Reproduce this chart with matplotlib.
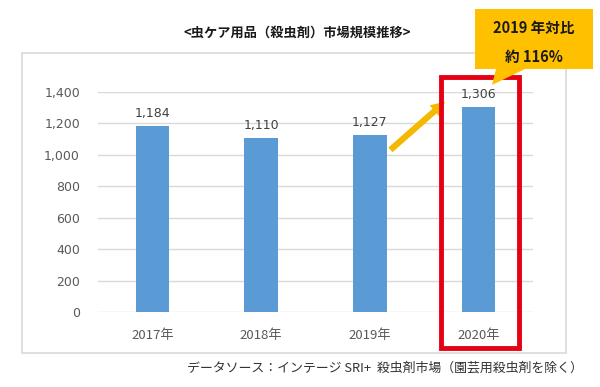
import matplotlib.pyplot as plt
from matplotlib.patches import Rectangle, Polygon

plt.rcParams['font.family'] = ['Noto Sans CJK JP', 'DejaVu Sans']

# ========== data ==========
years = ['2017年', '2018年', '2019年', '2020年']
market = [1184, 1110, 1127, 1306]
yticks = [0, 200, 400, 600, 800, 1000, 1200, 1400]
title = '<虫ケア用品（殺虫剤）市場規模推移>'
callout = ['2019 年対比', '約 116%']
source = 'データソース：インテージ SRI+  殺虫剤市場（園芸用殺虫剤を除く）'

W, H = 600, 387
fig = plt.figure(figsize=(W / 100, H / 100), dpi=100)

def fx(px):
    return px / W

def fy(py):
    return 1 - py / H

# outer light frame
fig.patches.append(Rectangle((fx(22), fy(353)), fx(566 - 22), (353 - 53) / H,
                             transform=fig.transFigure, fill=False,
                             edgecolor='#d9d9d9', linewidth=1.2))

ax = fig.add_axes([fx(98), fy(312), fx(533 - 98), (312 - 92) / H])
x = range(len(years))
ax.bar(x, market, width=0.31, color='#5b9bd5', zorder=2)
for i, v in enumerate(market):
    ax.text(i, v + 35, f'{v:,}', ha='center', va='bottom', fontsize=9,
            color='#404040', family=['DejaVu Sans'])

ax.set_xlim(-0.5, 3.5)
ax.set_ylim(0, 1400)
ax.set_yticks(yticks)
ax.set_yticklabels([f'{t:,}' for t in yticks], family=['DejaVu Sans'])
ax.set_xticks(list(x))
ax.set_xticklabels(years)
ax.tick_params(axis='both', length=0, labelcolor='#595959')
ax.tick_params(axis='y', pad=13, labelsize=9)
ax.tick_params(axis='x', pad=12, labelsize=9.5)
ax.grid(axis='y', color='#d9d9d9', linewidth=1, zorder=0)
for s in ax.spines.values():
    s.set_visible(False)

# arrow from 2019 to 2020
ax.annotate('', xy=(2.71, 1349), xytext=(2.17, 1020),
            arrowprops=dict(arrowstyle='simple,head_width=1.1,head_length=1.0,tail_width=0.45',
                            color='#f5b800', linewidth=0),
            annotation_clip=False)

# red highlight box around 2020
fig.patches.append(Rectangle((fx(441), fy(348)), fx(519 - 441), (348 - 77) / H,
                             transform=fig.transFigure, fill=False,
                             edgecolor='#e50012', linewidth=3.5, zorder=5))

# yellow callout
pts = [(475, 9), (593, 9), (593, 69), (525, 69), (492, 85), (496, 69), (475, 69)]
fig.patches.append(Polygon([(fx(a), fy(b)) for a, b in pts], closed=True,
                           transform=fig.transFigure, facecolor='#ffc000',
                           edgecolor='none', zorder=6))
fig.text(fx(534), fy(28), callout[0], ha='center', va='center', fontsize=10.5,
         fontweight='bold', color='#1a1a1a', zorder=7)
fig.text(fx(534), fy(57), callout[1], ha='center', va='center', fontsize=10.5,
         fontweight='bold', color='#1a1a1a', zorder=7)

fig.text(fx(297), fy(33), title, ha='center', va='center', fontsize=9.5,
         fontweight='bold', color='#1a1a1a')
fig.text(fx(583), fy(368), source, ha='right', va='center', fontsize=9.3,
         color='#333333')

fig.savefig('out.png', dpi=100)
